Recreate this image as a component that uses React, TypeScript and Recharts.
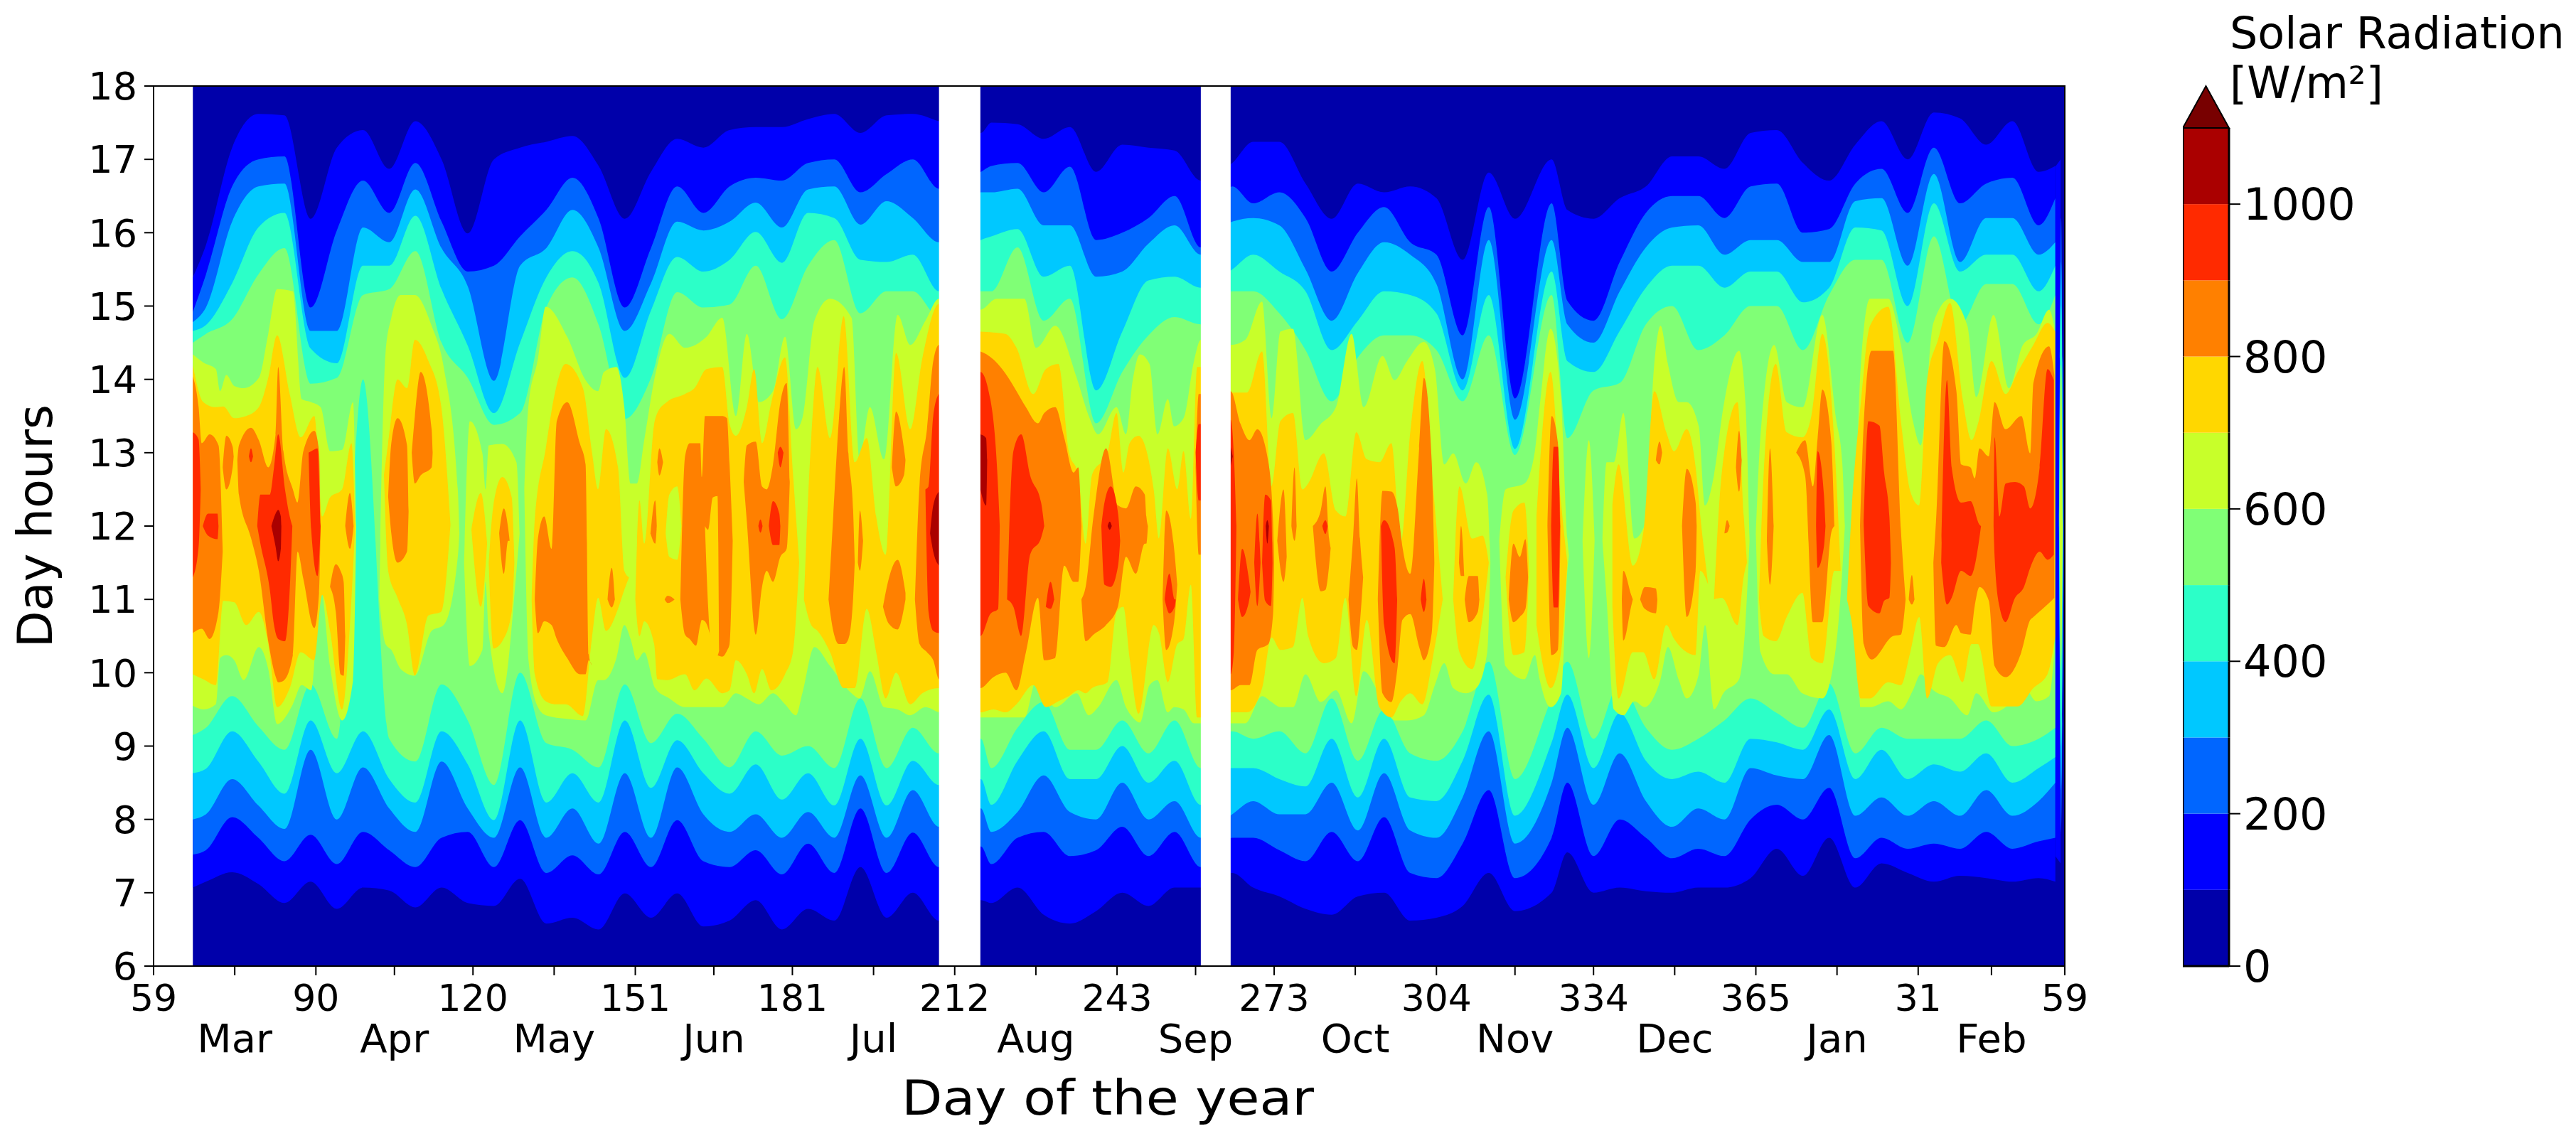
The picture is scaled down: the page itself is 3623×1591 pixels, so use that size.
import { Area, Bar, BarChart, ComposedChart, ReferenceArea, XAxis, YAxis } from "recharts";

const FONT = "DejaVu Sans";

// day offset from 1 March; the 154 and 203 rows fall in the missing-data gaps
const days = [
  7.5, 10, 15, 20, 25, 30, 35, 40, 45, 50, 55, 60, 65, 70, 75, 80, 85, 90, 95, 100, 105, 110, 115, 120, 125, 130, 135, 140, 145, 150,
  154,
  158, 160, 165, 170, 175, 180, 185, 190, 195, 200,
  203,
  206, 210, 215, 220, 225, 230, 235, 240, 245, 250, 255, 260, 267, 270, 275, 280, 285, 290, 295, 300, 305, 310, 315, 320, 325, 330, 335, 340, 345, 350, 355, 360, 363.2,
];
const gaps = [[150, 157.9], [200, 205.7]];

const majorTicks = [0, 31, 61, 92, 122, 153, 184, 214, 245, 275, 306, 337, 365];
const majorLabels = ["59", "90", "120", "151", "181", "212", "243", "273", "304", "334", "365", "31", "59"];
const minorTicks = [15.5, 46, 76.5, 107, 137.5, 168.5, 199, 229.5, 260, 290.5, 321.5, 351];
const monthLabels = ["Mar", "Apr", "May", "Jun", "Jul", "Aug", "Sep", "Oct", "Nov", "Dec", "Jan", "Feb"];
const hourTicks = [6, 7, 8, 9, 10, 11, 12, 13, 14, 15, 16, 17, 18];
const colorTicks = [0, 200, 400, 600, 800, 1000];

const baseColor = "#0000aa";
const blue = "#0000ff";
const azure = "#0066ff";
const cyan = "#00c8ff";
const teal = "#2cffc8";
const green = "#80ff76";
const lime = "#c8ff2a";
const yellow = "#ffd700";
const orange = "#ff8000";
const red = "#ff2a00";
const darkRed = "#aa0000";
const overColor = "#780000";

// hour at which radiation rises above each level in the morning
const low100 = [7.07, 7.15, 7.28, 7.12, 6.86, 7.15, 6.78, 7.07, 7.03, 6.8, 7.07, 6.86, 6.82, 7.19, 6.58, 6.66, 6.5, 6.99, 6.66, 6.99, 6.54, 6.62, 6.9, 6.5, 6.78, 6.62, 7.35, 6.66, 7, 6.62, null, 6.9, 6.86, 7.07, 6.7, 6.58, 6.75, 7, 6.82, 7.07, 7.07, null, 7.27, 7.07, 6.95, 6.78, 6.7, 6.95, 7, 6.62, 6.66, 6.82, 7.27, 6.75, 7, 7.55, 7, 7.07, 7.02, 7, 7.07, 7.07, 7.2, 7.6, 7.23, 7.75, 7.07, 7.4, 7.27, 7.15, 7.23, 7.2, 7.15, 7.2, 7.15];
const low200 = [7.52, 7.58, 8.03, 7.75, 7.43, 7.79, 7.39, 7.83, 7.58, 7.35, 7.75, 7.83, 7.35, 7.99, 7.27, 7.51, 7.25, 7.83, 7.35, 7.99, 7.43, 7.35, 7.58, 7.25, 7.67, 7.27, 8.15, 7.27, 7.82, 7.35, null, 7.63, 7.39, 7.75, 7.83, 7.5, 7.58, 7.9, 7.5, 7.83, 7.35, null, 7.75, 7.75, 7.58, 7.43, 7.83, 7.43, 8.03, 7.27, 7.2, 7.67, 8.4, 7.2, 7.75, 8.5, 7.5, 8, 7.75, 7.47, 7.6, 7.5, 8, 8.2, 8, 8.43, 7.47, 7.75, 7.6, 7.67, 7.6, 7.83, 7.6, 7.7, 7.75];
const low300 = [8.0, 8.07, 8.55, 8.19, 7.87, 8.95, 8.0, 8.71, 8.15, 7.83, 8.79, 8.15, 7.75, 8.71, 7.75, 8.15, 7.67, 8.63, 7.75, 8.71, 8.07, 7.83, 8.07, 7.75, 8.1, 7.75, 8.6, 7.75, 8.4, 7.9, null, 8.15, 7.83, 8.1, 8.6, 8.1, 8, 8.5, 8, 8.25, 7.75, null, 8.07, 8.25, 8.07, 8.07, 8.5, 7.85, 8.63, 7.85, 7.75, 8.3, 9.2, 7.67, 8.5, 9.25, 8.2, 8.9, 8.25, 7.9, 8.15, 8, 8.7, 8.6, 8.55, 9.15, 8.05, 8.3, 8.05, 8.25, 8.05, 8.4, 8.05, 8.25, 8.5];
const low400 = [8.63, 8.69, 9.2, 8.79, 8.35, 9.35, 8.63, 9.2, 8.55, 8.23, 9.2, 8.75, 7.99, 9.35, 8.23, 8.63, 8.23, 9.35, 8.43, 9.08, 8.63, 8.35, 8.75, 8.27, 8.63, 8.19, 9.1, 8.19, 8.8, 8.47, null, 8.55, 8.2, 8.8, 9.2, 8.55, 8.55, 9, 8.5, 8.8, 8.2, null, 8.7, 8.7, 8.55, 8.45, 9.1, 8.3, 9.1, 8.3, 8.25, 8.8, 9.7, 8.05, 9.05, 9.7, 8.7, 9.45, 8.8, 8.55, 8.65, 8.5, 9.1, 9.05, 8.95, 9.5, 8.55, 8.95, 8.55, 8.75, 8.65, 8.9, 8.5, 8.7, 8.85];
const low500 = [9.15, 9.25, 9.68, 9.27, 8.95, 9.84, 9.1, 14.0, 9.1, 8.79, 9.84, 9.35, 8.47, 10, 9.04, 8.95, 8.71, 9.84, 9.04, 9.44, 9.1, 8.71, 9.2, 8.87, 9, 8.7, 9.65, 8.7, 9.25, 8.9, null, 9.1, 8.7, 9.25, 9.6, 8.95, 8.95, 9.35, 8.9, 9.35, 8.7, null, 9.2, 9.1, 9.2, 8.9, 9.65, 8.8, 9.5, 8.9, 8.8, 9.2, 10.15, 8.55, 9.65, 10.15, 9.1, 9.85, 9.25, 8.95, 9.1, 9.35, 9.65, 9.45, 9.25, 9.85, 8.9, 9.25, 9.1, 9.1, 9.1, 9.35, 9, 9.1, 9.25];

// hour at which radiation falls back below each level in the afternoon
const up100 = [15.39, 15.83, 17.16, 17.62, 17.6, 16.19, 17.16, 17.4, 16.87, 17.52, 17.0, 15.99, 17.0, 17.16, 17.24, 17.32, 16.91, 16.19, 16.83, 17.28, 17.16, 17.4, 17.44, 17.44, 17.55, 17.62, 17.36, 17.6, 17.62, 17.52, null, 17.36, 17.5, 17.48, 17.28, 17.44, 16.83, 17.2, 17.16, 17.12, 16.71, null, 16.95, 17.24, 17.24, 16.67, 16.19, 16.67, 16.55, 16.63, 16.47, 15.63, 16.82, 16.19, 17.0, 16.31, 16.19, 16.47, 16.63, 17.04, 17.04, 16.87, 17.36, 17.4, 16.95, 16.71, 17.2, 17.52, 17.0, 17.64, 17.56, 17.2, 17.52, 16.83, 16.91];
const up200 = [14.92, 15.43, 16.63, 17.0, 17.04, 14.98, 16.03, 16.71, 16.27, 16.95, 16.15, 15.47, 15.55, 15.95, 16.31, 16.75, 16.19, 14.98, 15.79, 16.63, 16.27, 16.63, 16.75, 16.71, 16.95, 17.0, 16.55, 16.8, 17.0, 16.6, null, 16.83, 16.91, 16.95, 16.55, 16.9, 15.9, 16.0, 16.2, 16.5, 15.8, null, 16.63, 16.4, 16.55, 16.2, 15.47, 16.0, 16.35, 15.87, 15.7, 14.6, 16.35, 13.74, 16.4, 15.07, 14.8, 15.6, 16.27, 16.5, 16.5, 16.2, 16.63, 16.67, 16.0, 16.05, 16.67, 16.87, 16.27, 17.16, 16.4, 16.67, 16.75, 16.1, 16.47];
const up300 = [14.78, 14.98, 16.15, 16.63, 16.67, 14.66, 14.66, 16.07, 15.87, 16.59, 15.79, 15.27, 13.98, 15.55, 15.79, 16.31, 15.79, 14.66, 15.31, 16.15, 16.03, 16.15, 16.41, 16.07, 16.59, 16.63, 16.11, 16.43, 16.2, 15.87, null, 16.55, 16.55, 16.6, 16.1, 16.1, 15.4, 15.47, 15.85, 16.1, 15.7, null, 16.15, 16.2, 16.1, 15.5, 14.8, 15.45, 15.87, 15.7, 15.3, 14.0, 15.9, 13.45, 15.9, 14.75, 14.5, 15.2, 15.8, 16.07, 16.1, 15.7, 15.9, 15.9, 15.6, 15.6, 16.43, 16.47, 15.55, 16.8, 15.6, 16.2, 16.2, 15.7, 15.87];
const up400 = [14.66, 14.74, 15.31, 16.07, 16.27, 14.42, 14.22, 15.55, 15.55, 16.23, 15.23, 14.46, 13.54, 14.5, 15.39, 15.75, 15.31, 14.02, 14.94, 15.67, 15.47, 15.63, 16.01, 15.59, 16.27, 16.2, 15.63, 15.6, 15.7, 15.2, null, 15.9, 15.95, 16.05, 15.4, 15.55, 13.85, 14.65, 15.35, 15.4, 15.25, null, 15.5, 15.7, 15.47, 15.2, 14.4, 14.8, 15.2, 15.15, 14.9, 13.85, 15.15, 13.05, 15.47, 14.25, 14.1, 14.66, 15.25, 15.55, 15.55, 15.25, 15.47, 15.47, 15.05, 15.25, 16.07, 16.03, 15, 16.4, 15.47, 15.7, 15.7, 15.2, 15.55];
const up500 = [14.5, 14.62, 14.82, 15.43, 15.79, 13.94, 14.02, 15.15, 15.23, 15.75, 14.5, 14.02, 13.38, 13.54, 14.98, 15.39, 14.74, 13.46, 14.02, 15.19, 14.98, 15.02, 15.55, 14.82, 15.55, 15.9, 14.9, 15.2, 15.2, 14.85, null, 15.2, 15.2, 15.8, 14.8, 15.1, 13.4, 14.1, 14.6, 14.85, 14.75, null, 15.2, 15.2, 14.9, 14.4, 13.7, 14.3, 14.6, 14.6, 14.4, 13.7, 14.6, 12.97, 15.15, 13.2, 13.85, 13.95, 14.75, 15, 14.4, 14.6, 15, 15, 14.4, 15.15, 15.63, 15.63, 14.5, 15.95, 14.75, 15.3, 15.3, 14.75, 15.15];

type Island = number[][]; // [day, low hour, high hour]

// 600-700 W/m² patches
const limeIslands: Island[] = [
  [[7.5, 9.55, 14.34], [9.5, 9.5, 14.23], [11.9, 9.57, 14.14], [12.7, 10.2, 13.84], [13.9, 10.24, 14.06], [15.4, 10.17, 13.91], [17.2, 9.9, 13.88], [20.1, 10.35, 14.02], [21.9, 10.05, 14.62], [23.6, 9.3, 15.23], [26.6, 9.57, 15.2], [28.3, 9.83, 13.73], [30.1, 9.76, 13.69], [31.9, 11.17, 13.62], [33.7, 10.09, 13.02], [36, 9.35, 13.04], [38.1, 9.9, 13.69], [38.7, 12, 12]],
  [[43.1, 11, 11], [44.3, 10.39, 14.36], [45.4, 10.31, 14.84], [47.2, 10.05, 15.15], [49.9, 9.96, 15.15], [53.1, 10.57, 14.73], [55.4, 10.65, 14.17], [58.1, 11.58, 12.5], [58.4, 11.9, 11.9]],
  [[59.3, 11.5, 11.5], [60.4, 10.09, 13.43], [62.8, 10.31, 12.99], [63.4, 11.24, 12.5], [64, 10.54, 13.1], [66.6, 9.72, 13.12], [69.3, 11.39, 12.87], [69.9, 11.9, 11.9]],
  [[70.8, 12.5, 12.5], [71.6, 10.17, 13.65], [73.4, 9.53, 14.28], [74.9, 9.42, 14.99], [79, 9.37, 14.58], [82.5, 9.35, 13.99], [84.9, 9.9, 13.84], [86, 9.9, 14.1], [88.4, 10.2, 14.17], [89.9, 10.65, 13.62], [91.1, 10.46, 12.58], [92.3, 10.17, 12.58], [93.7, 10.28, 13.17], [95.8, 9.79, 14.06], [98.5, 9.65, 14.62], [101.5, 9.53, 14.43], [105.6, 9.53, 14.58], [108.6, 9.53, 14.84], [111.2, 9.72, 13.5], [113.3, 9.65, 14.62], [115.6, 9.57, 13.69], [118.3, 9.72, 13.84], [120.6, 9.57, 14.58], [122.7, 9.42, 13.32], [123.9, 9.72, 13.47], [126.2, 10.35, 14.8], [129.2, 10.09, 15.1], [133.3, 9.72, 14.84], [134.8, 9.65, 12.91], [136.8, 10.02, 13.62], [139.5, 9.53, 12.91], [142.1, 9.5, 14.88], [144.5, 9.42, 14.47], [147.4, 9.53, 14.8], [150, 9.46, 15.1], [157.9, 9.39, 14.95], [161, 9.39, 15.1], [166.3, 9.39, 15.1], [168.6, 9.9, 14.43], [172.2, 9.53, 14.73], [176.3, 9.72, 14.02], [178.6, 9.42, 13.5], [180.4, 9.53, 13.25], [183.9, 9.9, 13.62], [185.7, 9.53, 13.25], [187, 9.39, 13.99], [188.4, 9.32, 14.34], [190.2, 9.83, 14.21], [191.7, 9.9, 13.25], [193.7, 9.46, 13.73], [194.9, 9.53, 13.36], [196.7, 9.5, 13.47], [198.7, 9.31, 14.25], [200, 9.31, 14.54], [205.7, 9.31, 14.47], [208.5, 9.31, 14.54], [211.7, 9.68, 15.06], [213.5, 9.6, 13.47], [215.2, 9.53, 14.65], [217.6, 9.53, 14.69], [220, 9.98, 13.17], [222.9, 9.6, 13.39], [225.8, 9.76, 13.62], [228.8, 9.31, 14.62], [231.1, 10.02, 13.62], [234.7, 9.61, 14.32], [237, 9.35, 13.99], [239.4, 9.35, 14.25], [242.6, 9.42, 14.51], [244.7, 9.83, 14.14], [246.5, 10.13, 12.84], [248.2, 9.79, 12.99], [250.6, 9.72, 12.58], [252.6, 9.79, 12.87], [254.7, 10.28, 12.43], [255.3, 11.5, 11.5]],
  [[257, 11.8, 11.8], [258.2, 10.09, 12.5], [261.8, 9.91, 12.58], [263.8, 10.24, 13.02], [264.7, 9.91, 13.62], [266.8, 9.53, 14.69], [268.8, 9.72, 13.73], [270, 11.39, 11.83], [270.3, 11.6, 11.6]],
  [[272.9, 11.8, 11.8], [274.1, 10.2, 13.17], [275.2, 11.8, 11.8]],
  [[276.7, 11.8, 11.8], [277.5, 11, 12.87], [278.9, 9.5, 12.87], [280.7, 9.42, 13.54], [282.8, 9.61, 11.83], [284.8, 9.53, 12.02], [286.6, 9.68, 14.21], [287.8, 9.91, 14.73], [289.2, 10.35, 14.21], [291.3, 9.9, 13.69], [292.8, 9.65, 13.69], [295.1, 9.98, 13.36], [296.3, 10.65, 12.28], [298, 9.5, 12.69], [299.8, 9.72, 13.62], [302.8, 9.91, 14.39], [304, 10.65, 13.69], [304.8, 11.8, 11.8]],
  [[306, 11.9, 11.9], [306.9, 10.28, 13.25], [309.5, 9.98, 14.47], [311.9, 9.98, 13.69], [314.9, 9.72, 13.62], [318.7, 9.65, 14.88], [321.3, 10.35, 13.47], [322.5, 11.39, 12.87], [323, 12, 12]],
  [[325.2, 12.5, 12.5], [326, 9.53, 14.14], [327.8, 9.53, 15.1], [331.3, 9.61, 15.1], [333.7, 9.5, 14.47], [336, 9.76, 13.43], [337.5, 9.98, 13.1], [339.9, 9.76, 14.77], [343.1, 9.65, 15.1], [346.4, 9.42, 14.73], [348.1, 9.72, 13.76], [351.4, 9.46, 14.88], [354.3, 9.57, 13.88], [357, 9.83, 14.47], [359.6, 9.61, 14.62], [362, 9.68, 14.95], [363, 10.28, 14.73]],
];

// 700-800 W/m² patches
const yellowIslands: Island[] = [
  [[7.5, 9.98, 14.19], [9.5, 9.91, 13.69], [11.9, 9.83, 13.62], [13.3, 10.98, 13.63], [15.4, 10.96, 13.47], [17.7, 10.65, 13.5], [20.1, 10.83, 13.62], [21.9, 10.39, 14.02], [23.6, 9.53, 14.6], [26, 9.79, 13.8], [28.1, 10.28, 13.21], [30.7, 10.17, 13.5], [32.2, 11.06, 12.13], [33.7, 10.57, 12.39], [36, 9.5, 12.5], [37.8, 11.02, 13.13], [38.5, 12, 12]],
  [[44, 12.7, 12.7], [44.8, 11.39, 13.13], [46.6, 11.02, 14], [48.4, 10.65, 13.88], [49.9, 9.96, 14.54], [52.5, 10.78, 14.25], [54.9, 10.83, 13.65], [56.7, 12.02, 12.02]],
  [[60.7, 11.95, 11.95], [62.5, 10.9, 12.45], [63.7, 11.76, 11.76]],
  [[64, 11.5, 11.5], [64.9, 10.33, 12.28], [66.6, 10.43, 12.67], [68.4, 10.83, 12.39], [68.9, 11.5, 11.5]],
  [[72.2, 11, 11], [72.8, 9.98, 12.09], [74.9, 9.61, 13.06], [76.6, 9.57, 13.8], [78.7, 9.57, 14.21], [82, 9.41, 13.88], [83.7, 10.46, 13.02], [84.9, 11.02, 12.5], [86.4, 10.57, 13.32], [88.7, 10.87, 12.8], [89.9, 11.13, 11.39], [90.8, 11.3, 11.3]],
  [[92, 11, 11], [92.8, 10.5, 12.35], [93.7, 10.7, 11.76], [95.6, 10.39, 13.39], [96.2, 9.91, 13.54], [98, 9.9, 13.69], [101.5, 9.98, 13.8], [103.3, 9.76, 13.88], [105.6, 9.92, 14.14], [108.6, 9.72, 14.17], [110, 9.76, 13.39], [111.2, 10.17, 13.23], [113.3, 9.98, 13.62], [114.7, 9.72, 14.14], [116.2, 10.05, 13.13], [118, 9.76, 13.69], [120.6, 9.98, 14.3], [122.1, 10.28, 12.73], [123.3, 11.5, 11.5]],
  [[124.2, 11, 11], [125.6, 10.65, 13.2], [126.8, 10.57, 14.17], [129.2, 10.28, 13.2], [131.8, 9.79, 14.86], [133.9, 9.79, 12.87], [136.2, 10.87, 13.2], [138, 10.28, 12.13], [139.8, 9.65, 11.61], [141.8, 10, 14.36], [144.5, 9.57, 13.32], [146.8, 9.72, 14.28], [150, 9.79, 15.03], [157.9, 9.46, 14.65], [160.4, 9.5, 14.64], [162.7, 9.46, 14.62], [164.8, 9.57, 14.43], [168, 9.83, 13.8], [170.4, 9.53, 14.14], [172.8, 9.61, 14.21], [174.8, 9.68, 13.02], [176.6, 9.76, 12.69], [178, 9.72, 11.76], [179.2, 9.79, 12.69], [182.2, 9.87, 13], [183.9, 10.83, 13.54], [185.2, 10.9, 12.73], [186.4, 10.2, 13.13], [188.1, 9.44, 13.23], [191, 10.65, 12.5], [192, 10.54, 11.83], [193.7, 9.87, 13.06], [195.5, 10.39, 12.5], [196.7, 10.46, 13.02], [198.1, 11.2, 12.1], [199.3, 9.39, 14.17], [200, 9.39, 14.17], [205.7, 9.46, 13.82], [208.8, 9.46, 13.82], [211.7, 9.79, 14.38], [213.5, 10.48, 12.54], [215.2, 10.31, 13.43], [217.6, 10.35, 13.54], [219.4, 11.02, 12.5], [220.5, 10.5, 12.58], [223.5, 10.13, 12.99], [225.8, 10.2, 12.21], [227.6, 11.02, 12.13], [229.7, 9.68, 13.28], [231.7, 10.72, 12.91], [234.1, 9.53, 12.87], [236.4, 9.39, 13.13], [238.2, 9.61, 11.76], [240, 9.72, 13.28], [242.3, 9.57, 14.25], [244.4, 10.24, 12.5], [246.2, 11, 11]],
  [[248.2, 11, 11], [249.4, 10.28, 12.54], [251.8, 10.05, 11.83], [253.8, 10.76, 11.87], [255, 11.5, 11.5]],
  [[258.2, 11.3, 11.3], [259.7, 10.24, 12.21], [261.8, 10.28, 12.32], [262.7, 11.39, 11.39]],
  [[264.1, 10.65, 12.13], [266.8, 9.79, 14.1], [268.8, 10.28, 12.32], [270, 11.5, 11.5]],
  [[278.6, 10.91, 12.28], [279.8, 9.65, 12.84], [282.5, 10.28, 11.46], [284.5, 10.28, 11.91], [286.6, 9.91, 13.84], [288.9, 10.65, 13.28], [290.4, 10.46, 13.02], [292.8, 10.28, 13.32], [294.5, 10.24, 12.8], [295.4, 11.39, 12.13], [296.9, 11.2, 11.2]],
  [[298, 11, 11], [299.5, 11.02, 12.73], [302.5, 10.65, 13.69], [303.7, 11.32, 12.13], [304.3, 11.5, 11.5]],
  [[306.6, 11, 11], [307.5, 10.5, 12.73], [309.8, 10.43, 14.21], [311.9, 10.76, 13.28], [314.9, 11.09, 13.21], [316.6, 10.2, 13.5], [318.7, 10.13, 14.62], [321, 11.39, 13.13], [322.2, 11.39, 11.39]],
  [[323.4, 11, 11], [324.3, 10.69, 12.21], [326, 9.65, 13.65], [327.8, 9.65, 14.73], [331.3, 9.87, 14.99], [333.7, 9.83, 13.43], [335.5, 10.28, 12.47], [337.2, 10.76, 12.28], [338.7, 9.65, 13.99], [340.8, 10.13, 14.54], [343.1, 10.24, 15.04], [345.5, 9.87, 13.73], [347.2, 10.39, 13.17], [348.4, 10.39, 13.39], [351, 9.54, 14.25], [353.7, 9.54, 13.8], [356, 9.54, 14.1], [359, 9.79, 14.47], [361.7, 9.98, 14.77], [363.2, 10.5, 14.65]],
];

// lime lens left inside the yellow of day 98-100
const limeLenses: Island[] = [
  [[97.8, 11.9, 11.9], [98.5, 11.58, 12.43], [100, 11.54, 12.54], [100.8, 12, 12]],
];

// 800-900 W/m² patches
const orangeIslands: Island[] = [
  [[7.5, 10.54, 14.04], [8.6, 10.59, 13.62], [9.2, 10.6, 13.13], [10.7, 10.46, 13.25], [12.4, 10.83, 13.1], [13.2, 11.65, 11.65]],
  [[13.2, 12.8, 12.8], [13.9, 12.5, 13.23], [15.1, 12.8, 13.08], [15.3, 12.95, 12.95]],
  [[16, 12.9, 12.9], [16.3, 12.43, 13.1], [18.6, 11.84, 13.34], [20.1, 11.39, 13.17], [21.9, 10.43, 12.8], [23.3, 9.95, 13.25], [23.8, 9.87, 14.17], [24.8, 9.89, 13.02], [26.6, 10.24, 12.5], [27.5, 11.65, 12.32], [28.6, 11.28, 13.02], [30.7, 10.61, 13.3], [31.6, 11.09, 13.02], [31.9, 12, 12]],
  [[33.7, 11.17, 11.17], [34.8, 10.83, 11.48], [35.7, 9.98, 11.39], [36.3, 9.96, 11.24], [36.6, 10.5, 10.5]],
  [[36.6, 12, 12], [37.5, 11.69, 12.45], [38.2, 12, 12]],
  [[44.8, 12.4, 12.4], [45.4, 11.9, 13.13], [46.6, 11.5, 13.47], [48.4, 11.65, 13.1], [48.7, 12.2, 12.2]],
  [[49.3, 13, 13], [49.9, 12.58, 13.5], [51, 12.69, 14.1], [53.1, 12.8, 13.32], [53.3, 13, 13]],
  [[66, 11.9, 11.9], [66.9, 11.35, 12.24], [67.7, 11.8, 11.98], [68, 11.8, 11.8]],
  [[72.8, 11, 11], [73.4, 10.54, 11.83], [74.6, 10.7, 12.13], [76, 10.65, 11.69], [77, 10.46, 13.43], [79, 10.2, 13.69], [81.4, 9.98, 13.13], [82.5, 9.98, 12.84], [83.1, 10.17, 9.95 + 0.3], [83.7, 10.1, 10.1]],
  [[86.7, 11, 11], [87.5, 10.89, 11.43], [88.1, 11, 11]],
  [[94.9, 11.9, 11.9], [95.8, 11.76, 12.35], [96.1, 12, 12]],
  [[96.2, 12.87, 12.87], [96.6, 12.69, 13.06], [97.3, 12.87, 12.87]],
  [[97.6, 11, 11], [98.2, 10.95, 11.05], [99.5, 11, 11]],
  [[100.6, 11, 11], [101.5, 10.52, 12.95], [102.4, 10.46, 13.13], [103.6, 10.37, 13.13], [104.4, 10.65, 13.13], [104.7, 10.72, 12.67], [105.3, 10.7, 13.5], [107.7, 10.24, 13.5], [108.6, 10.22, 13.5], [109.5, 10.3, 13.47], [110, 10.39, 12.84], [110.6, 11.8, 11.8]],
  [[112.7, 12.6, 12.6], [113.3, 12.06, 13.1], [115, 10.52, 13.15], [116.2, 11.17, 12.54], [117.1, 11.39, 12.5], [118.3, 11.24, 12.84], [119.7, 11.58, 13.69], [120.9, 11.69, 13.95], [121.5, 12.6, 12.6]],
  [[128.9, 11, 11], [129.8, 10.57, 12.13], [130.9, 10.39, 13.47], [131.9, 10.39, 14.17], [132.7, 10.46, 12.99], [133.6, 11.02, 12.21], [133.9, 11.5, 11.5]],
  [[134.5, 11.5, 11.5], [134.9, 11.39, 12.21], [135.5, 11.8, 11.8]],
  [[139.3, 10.9, 10.9], [140.4, 10.67, 11.28], [142.1, 10.59, 11.54], [143.6, 11, 11.09]],
  [[141, 12.8, 12.8], [141.8, 12.54, 13.56], [143.3, 12.69, 13.06], [143.6, 12.9, 12.9]],
  [[145.4, 11, 11], [146.3, 10.39, 12.58], [147.7, 10.28, 13.32], [148.9, 10.17, 14.25], [150, 9.91, 14.47], [157.9, 9.79, 14.38], [160.4, 9.94, 14.27], [162.7, 10, 14.08], [164.8, 9.76, 13.84], [166.6, 10.28, 13.62], [168.9, 11.02, 13.4], [170.1, 10.17, 13.54], [172.2, 10.2, 13.62], [173.9, 11.46, 13.21], [175.7, 11.24, 12.73], [176.6, 11.24, 12.8], [177.2, 12, 12]],
  [[177.2, 11, 11], [178, 10.43, 11.17], [179.5, 10.52, 12.13], [181.9, 10.65, 13.06], [184.2, 10.91, 12.28], [185.7, 11.58, 12.24], [187.6, 11.35, 12.54], [189.3, 11.76, 12.43], [189.6, 11.76, 12.13], [189.9, 12, 12]],
  [[192.7, 11, 11], [193.4, 10.31, 12.21], [194.9, 10.69, 11.69], [195.5, 11.2, 11.2]],
  [[199, 12.8, 12.8], [199.6, 11.61, 13.8], [200, 11.61, 13.8], [205.7, 9.76, 13.84], [207.6, 9.83, 13.39], [209.3, 9.83, 13.17], [210.8, 10.31, 13.32], [212.9, 10.39, 12.87], [213.8, 10.8, 12.06], [214, 11.5, 11.5]],
  [[214.6, 11.8, 11.8], [215.8, 11.24, 12.5], [216.4, 11.58, 11.58]],
  [[217.3, 12, 12], [217.9, 11.8, 12.8], [218.3, 12, 12]],
  [[221.4, 12, 12], [222.9, 11.11, 12.21], [223.8, 11.13, 12.54], [224.5, 11.46, 11.83], [224.8, 11.7, 11.7]],
  [[228.2, 11, 11], [229.1, 10.35, 11.87], [229.8, 10.31, 12.65], [230.4, 10.69, 11.83], [231, 11.3, 11.3]],
  [[233.8, 11, 11], [234.7, 9.72, 12.48], [236.4, 9.6, 12.47], [237.6, 10.09, 12.24], [238.5, 10.72, 11.72], [240, 10.8, 11.35], [241.7, 10.35, 13.06], [242.6, 10.17, 14.02], [244.1, 10.54, 12.87], [244.6, 11.5, 11.5]],
  [[249.3, 11.5, 11.5], [249.7, 11.32, 12], [250.3, 11.32, 11.32]],
  [[250.4, 11, 11], [251.2, 10.69, 11.32], [252.9, 10.83, 11.32], [253.2, 11, 11]],
  [[258.8, 11, 11], [259.7, 10.69, 11.76], [260.9, 10.76, 11.58], [262, 10.87, 11.82], [262.5, 11.3, 11.3]],
  [[266.2, 12, 12], [267, 10.24, 13.5], [268.2, 10.31, 13.13], [268.7, 12, 12]],
  [[280.4, 11, 11], [280.7, 10.44, 11.39], [282.2, 10.91, 11.06], [282.5, 11, 11]],
  [[283.9, 11, 11], [284.8, 10.87, 11.17], [286.9, 10.81, 11.15], [287.2, 11, 11]],
  [[286.9, 12.9, 12.9], [287.6, 12.84, 13.15], [288.1, 13, 13]],
  [[291.9, 12, 12], [292.8, 10.76, 12.78], [294.5, 11.39, 12.32], [294.7, 12, 12]],
  [[300, 11.9, 11.9], [300.5, 11.91, 12.08], [301, 12, 12]],
  [[302.2, 12.8, 12.8], [302.8, 12.47, 13.3], [303.3, 12.9, 12.9]],
  [[308.1, 11.8, 11.8], [308.7, 11.2, 13.06], [309.4, 12, 12]],
  [[313.7, 13, 13], [315.4, 12.69, 13.17], [316.9, 10.69, 12.54], [317.8, 10.69, 13.2], [318.7, 10.69, 13.86], [320.4, 11.91, 13.15], [321, 12, 12]],
  [[325.9, 12, 12], [326.6, 10.39, 13.39], [328.1, 10.18, 14.39], [332.2, 10.5, 14.39], [333.7, 10.52, 11.95], [334.6, 11, 11]],
  [[335.2, 11, 11], [335.8, 10.93, 11.33], [336.3, 11, 11]],
  [[339.9, 11.5, 11.5], [340.4, 10.37, 12.06], [342, 10.35, 14.52], [344.3, 10.65, 13.84], [345.2, 10.54, 12.84], [347, 10.52, 12.8], [347.8, 10.91, 12.65], [348.7, 11.17, 13.06], [350.5, 10.98, 12.95], [351.6, 10.09, 13.69], [353.7, 9.94, 13.32], [356.7, 10.28, 13.5], [358.4, 10.72, 12.99], [359, 10.76, 13.95], [362, 10.95, 14.45], [363, 11.02, 14.06]],
];

// yellow lens left inside the orange of day 105-108
const yellowLenses: Island[] = [
  [[105.3, 12, 12], [105.9, 10.91, 11.95], [106.8, 10.24, 12.39], [107.7, 10.24, 12.41], [108, 10.3, 10.3]],
];

// 900-1000 W/m² patches
const redIslands: Island[] = [
  [[7.5, 11.3, 13.28], [8.6, 11.72, 13.18], [9, 12.5, 12.5]],
  [[9.4, 12, 12], [10.4, 11.87, 12.17], [12.2, 11.82, 12.17], [12.4, 12, 12]],
  [[18.2, 12.95, 12.95], [18.6, 12.87, 13.06], [19, 12.95, 12.95]],
  [[19.8, 12, 12], [20.4, 11.76, 12.43], [22.2, 11.13, 12.43], [23, 10.65, 12.8], [23.8, 10.46, 13.25], [25.1, 10.43, 12.5], [26, 11.13, 12.13], [26.5, 12, 12]],
  [[29.6, 13, 13], [30.1, 11.95, 13.02], [31.3, 11.32, 13.06], [31.9, 12, 12]],
  [[115.5, 12, 12], [115.9, 11.91, 12.09], [116.3, 12, 12]],
  [[117.5, 12, 12], [118.3, 11.74, 12.34], [119.5, 11.74, 12.17], [119.7, 12, 12]],
  [[119.2, 13, 13], [119.7, 12.8, 13.08], [120.3, 13, 13]],
  [[147.4, 12.5, 12.5], [148, 10.83, 12.54], [148.9, 10.57, 13.5], [150, 10.54, 13.8], [157.9, 10.5, 14.1], [159.8, 10.8, 13.73], [161.3, 10.87, 12.5], [161.6, 12, 12]],
  [[163, 11, 11], [164.2, 10.9, 13.02], [165.7, 10.5, 13.25], [167.4, 11.61, 12.69], [169.5, 11.84, 12.32], [170.1, 12, 12]],
  [[170.4, 10.9, 10.9], [171.3, 10.87, 11.24], [172, 11, 11]],
  [[181, 12, 12], [181.6, 11.2, 12.32], [182.8, 11.17, 12.54], [184.2, 11.46, 12.17], [184.6, 11.8, 11.8]],
  [[193.1, 11, 11], [194, 10.81, 11.35], [195, 10.9, 11], [195.2, 11, 11]],
  [[199, 13, 13], [199.6, 12.35, 13.39], [200, 12.35, 13.39], [205.7, 9.98, 13.45], [206.3, 10.28, 13], [206.8, 12, 12]],
  [[207.1, 11, 11], [207.9, 10.76, 11.69], [209.1, 10.94, 11.32], [209.5, 11.1, 11.1]],
  [[210.2, 11.5, 11.5], [210.8, 10.91, 12.17], [211.4, 11.5, 11.5]],
  [[211.7, 11.5, 11.5], [212.3, 10.98, 12.43], [213.4, 10.91, 12.35], [213.7, 11.5, 11.5]],
  [[223.2, 12, 12], [223.8, 11.89, 12.08], [224.2, 12, 12]],
  [[234.4, 12, 12], [235, 10.65, 12.08], [237, 10.13, 11.71], [237.5, 11, 11]],
  [[242, 11, 11], [242.6, 10.83, 11.28], [243.1, 11, 11]],
  [[266.9, 12, 12], [267.4, 10.89, 13.08], [268.2, 10.89, 13.08], [268.6, 12, 12]],
  [[317.5, 12, 12], [317.8, 11.43, 13.02], [319, 11.72, 12.43], [319.3, 12, 12]],
  [[326.6, 12, 12], [327.5, 10.91, 13.43], [329.6, 10.81, 13.37], [330.5, 10.98, 12.73], [331.5, 11.02, 12.13], [331.8, 11.5, 11.5]],
  [[341.4, 11.5, 11.5], [342.5, 10.93, 13.99], [343.4, 11.02, 12.8], [345.2, 11.39, 12.32], [347, 11.32, 12.34], [348.7, 11.84, 12.02], [349, 12, 12]],
  [[351.4, 12, 12], [351.6, 11.58, 13.21], [352.5, 10.91, 12.13], [353.7, 10.69, 12.58], [355.5, 11.02, 12.6], [357.2, 11.17, 12.54], [358.4, 11.43, 12.24], [360.2, 11.65, 12.8], [361.7, 11.54, 14.14], [362.9, 11.61, 13.99]],
];

// above 1000 W/m²
const darkIslands: Island[] = [
  [[22.5, 12, 12], [23.3, 11.72, 12.17], [23.8, 11.52, 12.22], [24.3, 11.69, 12.13], [24.4, 12, 12]],
  [[148.3, 11.9, 11.9], [148.9, 11.65, 12.28], [150, 11.46, 12.47]],
  [[157.9, 12.5, 13.25], [159, 12.28, 13.2], [159.2, 12.9, 12.9]],
  [[182.2, 12, 12], [182.6, 11.95, 12.06], [183, 12, 12]],
  [[205.7, 12.82, 13.08], [206.1, 12.95, 12.95]],
  [[212.4, 12, 12], [212.7, 11.76, 12.08], [213, 12, 12]],
];

// the thin last columns of the record, one entry per colour
const tailBlue: Island = [[363.2, 7.5, 16.9], [364.2, 7.4, 17]];
const tailAzure: Island = [[363.9, 12, 12], [364.3, 7.8, 16.2], [364.7, 12, 12]];
const tailCyan: Island = [[363.9, 12, 12], [364.3, 8.4, 15.6], [364.7, 12, 12]];
const tailTeal: Island = [[363.9, 12, 12], [364.3, 9, 15], [364.7, 12, 12]];
const tailLime: Island = [[364, 12, 12], [364.3, 10, 14.2], [364.6, 12, 12]];

const baseSpan: Island = [[7.5, 6, 18], [365, 6, 18]];

const mainLows = [low100, low200, low300, low400, low500];
const mainUps = [up100, up200, up300, up400, up500];
const mainColors = [blue, azure, cyan, teal, green];

const toIsland = (lows: (number | null)[], ups: (number | null)[]): Island =>
  days.flatMap((day, i) => (lows[i] == null || ups[i] == null ? [] : [[day, lows[i] as number, ups[i] as number]]));

const layers: { color: string; island: Island }[] = [
  { color: baseColor, island: baseSpan },
  ...mainLows.map((lows, k) => ({ color: mainColors[k], island: toIsland(lows, mainUps[k]) })),
  ...limeIslands.map((island) => ({ color: lime, island })),
  ...yellowIslands.map((island) => ({ color: yellow, island })),
  ...limeLenses.map((island) => ({ color: lime, island })),
  ...orangeIslands.map((island) => ({ color: orange, island })),
  ...yellowLenses.map((island) => ({ color: yellow, island })),
  ...redIslands.map((island) => ({ color: red, island })),
  ...darkIslands.map((island) => ({ color: darkRed, island })),
  { color: blue, island: tailBlue },
  { color: azure, island: tailAzure },
  { color: cyan, island: tailCyan },
  { color: teal, island: tailTeal },
  { color: lime, island: tailLime },
];

// one row per day that any layer uses
const rowsByDay = new Map<number, Record<string, any>>();
layers.forEach((layer, k) => {
  layer.island.forEach(([day, low, up]) => {
    if (!rowsByDay.has(day)) rowsByDay.set(day, { day });
    (rowsByDay.get(day) as Record<string, any>)[`s${k}`] = [low, up];
  });
});
const rows = [...rowsByDay.values()].sort((a, b) => a.day - b.day);

// colour bar: one stacked column of 100 W/m² bands, with the over-range arrow on top
const barBands = [100, 100, 100, 100, 100, 100, 100, 100, 100, 100, 100];
const barColors = [baseColor, blue, azure, cyan, teal, green, lime, yellow, orange, red, darkRed];
const barRow: Record<string, number> = { name: 0, over: 55 };
barBands.forEach((v, i) => {
  barRow[`band${i}`] = v;
});

function DayTick(props: any) {
  const { x, y, payload } = props;
  const major = majorTicks.indexOf(payload.value);
  const label = major >= 0 ? majorLabels[major] : monthLabels[minorTicks.indexOf(payload.value)];
  return (
    <text x={x} y={y + (major >= 0 ? 50 : 108)} textAnchor="middle" fontSize={major >= 0 ? 52 : 56} fontFamily={FONT} fill="#000">
      {label}
    </text>
  );
}

function XTitle() {
  return (
    <text x={1558} y={1568} textAnchor="middle" fontSize={68} fontFamily={FONT} fill="#000" textLength={580} lengthAdjust="spacingAndGlyphs">
      Day of the year
    </text>
  );
}

function BandShape(props: any) {
  const { x, y, width, height, fill, first } = props;
  return (
    <g>
      <rect x={x} y={y} width={width} height={height} fill={fill} />
      <line x1={x} x2={x} y1={y} y2={y + height} stroke="#000" strokeWidth={3} />
      <line x1={x + width} x2={x + width} y1={y} y2={y + height} stroke="#000" strokeWidth={3} />
      {first ? <line x1={x} x2={x + width} y1={y + height} y2={y + height} stroke="#000" strokeWidth={3} /> : null}
    </g>
  );
}

function OverShape(props: any) {
  const { x, y, width, height, fill } = props;
  return <polygon points={`${x},${y + height} ${x + width / 2},${y} ${x + width},${y + height}`} fill={fill} stroke="#000" strokeWidth={2} />;
}

export default function App() {
  return (
    <div style={{ position: "absolute", left: 0, top: 0, width: 3623, height: 1591, background: "#fff", fontFamily: FONT }}>
      <ComposedChart width={3623} height={1591} data={rows} margin={{ top: 121, right: 719, bottom: 0, left: 126 }}>
        <XAxis
          dataKey="day"
          type="number"
          domain={[0, 365]}
          ticks={[...majorTicks, ...minorTicks].sort((a, b) => a - b)}
          interval={0}
          tick={<DayTick />}
          tickSize={13}
          tickMargin={0}
          height={232}
          stroke="#000"
          strokeWidth={2}
          label={<XTitle />}
        />
        <YAxis
          type="number"
          domain={[6, 18]}
          ticks={hourTicks}
          interval={0}
          width={90}
          tickSize={13}
          tickMargin={10}
          stroke="#000"
          strokeWidth={2}
          tick={{ fontSize: 54, fontFamily: FONT, fill: "#000" }}
          label={{ value: "Day hours", angle: -90, position: "center", dx: -122, fontSize: 67, fontFamily: FONT, fill: "#000" }}
        />
        {layers.map((layer, k) => (
          <Area
            key={k}
            dataKey={(row: Record<string, any>) => row[`s${k}`] ?? [null, null]}
            type="monotoneX"
            connectNulls
            stroke="none"
            fill={layer.color}
            fillOpacity={1}
            dot={false}
            activeDot={false}
            isAnimationActive={false}
          />
        ))}
        {gaps.map(([from, to]) => (
          <ReferenceArea key={from} x1={from} x2={to} y1={6} y2={18} fill="#fff" fillOpacity={1} stroke="none" />
        ))}
        <ReferenceArea x1={0} x2={365} y1={6} y2={18} fill="none" stroke="#000" strokeWidth={2} ifOverflow="visible" />
      </ComposedChart>

      <div style={{ position: "absolute", left: 3070, top: 81 }}>
        <BarChart width={320} height={1318} data={[barRow]} margin={{ top: 40, right: 0, bottom: 40, left: 0 }} barCategoryGap={0}>
          <XAxis dataKey="name" hide />
          <YAxis
            orientation="right"
            type="number"
            domain={[0, 1155]}
            ticks={colorTicks}
            interval={0}
            width={255}
            tickSize={16}
            tickMargin={4}
            axisLine={false}
            stroke="#000"
            strokeWidth={2}
            tick={{ fontSize: 62, fontFamily: FONT, fill: "#000" }}
          />
          {barBands.map((_, i) => (
            <Bar key={i} dataKey={`band${i}`} stackId="c" fill={barColors[i]} isAnimationActive={false} shape={<BandShape first={i === 0} />} />
          ))}
          <Bar dataKey="over" stackId="c" fill={overColor} isAnimationActive={false} shape={<OverShape />} />
        </BarChart>
      </div>

      <div style={{ position: "absolute", left: 3136, top: 12, fontSize: 62, lineHeight: "70px", color: "#000", whiteSpace: "nowrap" }}>
        Solar Radiation
        <br />
        [W/m²]
      </div>
    </div>
  );
}
